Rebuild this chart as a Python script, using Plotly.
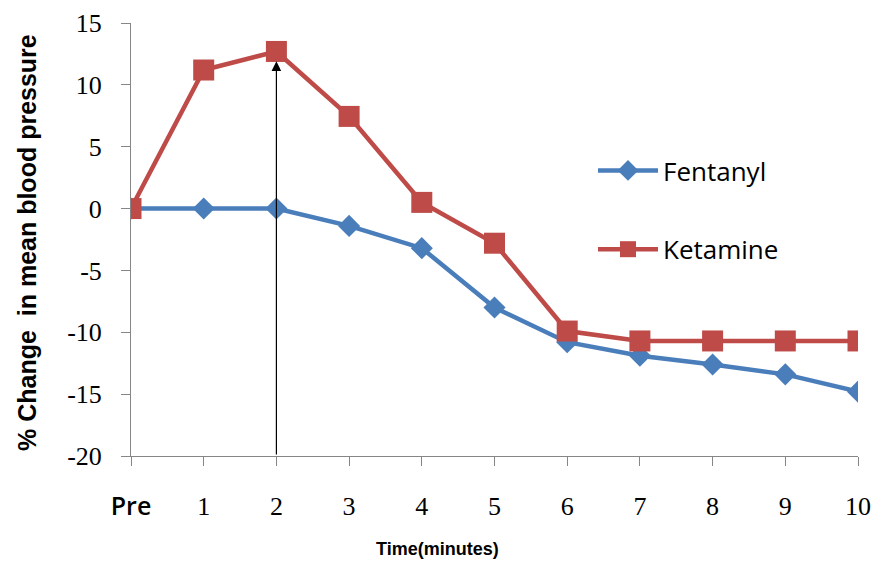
import plotly.graph_objects as go

categories = ["Pre", "1", "2", "3", "4", "5", "6", "7", "8", "9", "10"]
fentanyl = [0, 0, 0, -1.4, -3.2, -8.0, -10.8, -11.9, -12.6, -13.4, -14.8]
ketamine = [0, 11.2, 12.7, 7.45, 0.5, -2.8, -9.9, -10.7, -10.7, -10.7, -10.7]
y_ticks = [15, 10, 5, 0, -5, -10, -15, -20]
y_tick_text = ["15", "10", "5", "0", "-5", "-10", "-15", "-20"]
arrow_x = "2"
arrow_tip = 11.9
arrow_base = -20

blue = "#4A7EBB"
red = "#BE4B48"
axis_col = "#868686"

L, R, T, B = 131, 858, 23, 456

def px_x(p):
    return (p - L) / (R - L)

def px_y(p):
    return (B - p) / (B - T)

tick_text = ['<span style="font-family:Open Sans;font-weight:600;font-size:25px">Pre</span>'] + categories[1:]

fig = go.Figure()
fig.add_trace(go.Scatter(
    x=categories, y=fentanyl, name="Fentanyl", mode="lines+markers",
    line=dict(color=blue, width=4.5),
    marker=dict(symbol="diamond", size=17, color=blue),
    legendgroup="a",
))
fig.add_trace(go.Scatter(
    x=categories, y=ketamine, name="Ketamine", mode="lines+markers",
    line=dict(color=red, width=4.5),
    marker=dict(symbol="square", size=21, color=red),
    legendgroup="b",
))

fig.add_annotation(
    x=arrow_x, y=arrow_tip, ax=arrow_x, ay=arrow_base,
    xref="x", yref="y", axref="x", ayref="y",
    showarrow=True, arrowhead=2, arrowsize=1.6, arrowwidth=1.2, arrowcolor="#000000",
    text="",
)

fig.add_annotation(
    text="<b>Time(minutes)</b>", xref="paper", yref="paper",
    x=px_x(437), y=px_y(549), xanchor="center", yanchor="middle",
    showarrow=False, font=dict(family="Liberation Sans", size=18, color="#000"),
)

fig.add_annotation(
    text="<b>% Change  in mean blood pressure</b>", xref="paper", yref="paper",
    x=px_x(27), y=px_y(243), xanchor="center", yanchor="middle", textangle=-90,
    showarrow=False, font=dict(family="Liberation Sans", size=25, color="#000"),
)

fig.update_layout(
    width=874, height=563,
    margin=dict(l=L, r=874 - R, t=T, b=563 - B),
    paper_bgcolor="white", plot_bgcolor="white",
    showlegend=True,
    legend=dict(
        x=px_x(593), y=px_y(147),
        xanchor="left", yanchor="top",
        font=dict(family="Open Sans", size=26, color="#000"),
        tracegroupgap=42, bgcolor="rgba(0,0,0,0)",
        itemwidth=60,
    ),
    xaxis=dict(
        type="category", categoryorder="array", categoryarray=categories,
        range=[0, 10], showgrid=False, zeroline=False, automargin=False,
        showline=True, linecolor=axis_col, linewidth=1,
        ticks="outside", ticklen=9, tickcolor=axis_col,
        tickvals=categories, ticktext=tick_text,
        tickfont=dict(family="Liberation Serif", size=26, color="#000"),
        ticklabelstandoff=18,
    ),
    yaxis=dict(
        range=[-20, 15], tickvals=y_ticks, ticktext=y_tick_text,
        showgrid=False, zeroline=False, automargin=False,
        showline=True, linecolor=axis_col, linewidth=1,
        ticks="outside", ticklen=9, tickcolor=axis_col,
        tickfont=dict(family="Liberation Serif", size=26, color="#000"),
        ticklabelstandoff=14,
    ),
)

fig.write_html("out.html")
